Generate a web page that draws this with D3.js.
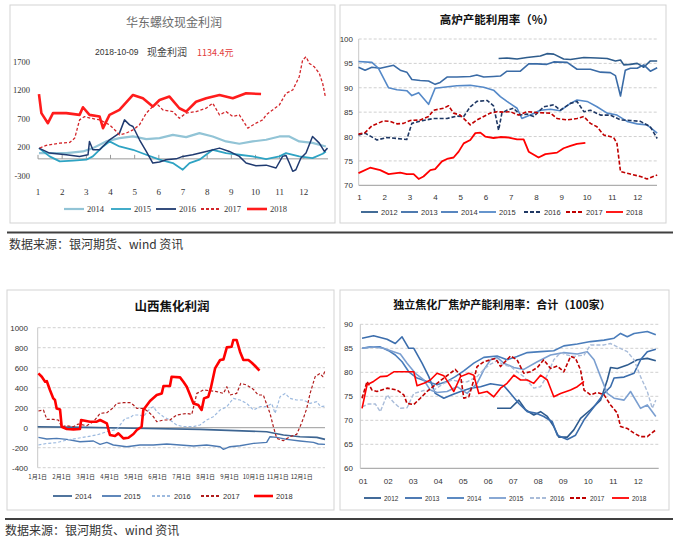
<!DOCTYPE html>
<html>
<head>
<meta charset="utf-8">
<script src="https://cdn.jsdelivr.net/npm/d3@7"></script>
<style>
body { margin: 0; background: #fff; }
text { font-family: "Liberation Sans", Arial, sans-serif; }
</style>
</head>
<body>
<svg id="chart" width="673" height="542"></svg>
<script>
// ---------- 华东螺纹现金利润 (x = 月份, y = 元) ----------
var lwYears = ["2014", "2015", "2016", "2017", "2018"];
var lwXLabels = ["1","2","3","4","5","6","7","8","9","10","11","12"];
var lwYTicks = [1700, 1200, 700, 200, -300];
var lw2014 = [[1.04,101],[2.17,101],[2.86,130],[3.27,188],[3.82,305],[4.37,363],[4.93,392],[5.48,345],[6.03,363],[6.58,420],[7.13,380],[7.68,450],[8.23,392],[8.78,305],[9.33,264],[9.88,305],[10.44,334],[10.99,392],[11.40,392],[11.81,305],[12.36,280],[12.91,217]];
var lw2015 = [[1.04,188],[1.48,43],[1.90,-44],[2.45,-32],[3.00,-15],[3.27,43],[3.69,217],[3.96,305],[4.37,217],[4.93,159],[5.48,72],[6.03,-15],[6.58,-73],[6.99,-190],[7.27,-73],[7.68,-15],[8.23,159],[8.78,101],[9.33,72],[9.88,43],[10.44,-3],[10.99,43],[11.26,101],[11.81,43],[12.36,14],[12.78,89],[12.91,130]];
var lw2016 = [[1.04,188],[1.48,101],[2.17,72],[2.72,43],[3.07,72],[3.13,305],[3.27,159],[3.55,159],[3.96,334],[4.37,450],[4.58,682],[4.79,595],[4.93,566],[5.20,334],[5.48,130],[5.75,-73],[6.03,-55],[6.30,-15],[6.72,0],[6.99,43],[7.40,72],[7.96,130],[8.51,188],[8.92,130],[9.33,43],[9.61,-73],[10.02,-120],[10.44,-110],[10.85,-160],[11.12,43],[11.26,60],[11.40,-73],[11.54,-218],[11.67,-190],[11.88,14],[12.09,101],[12.36,392],[12.64,275],[12.85,130],[12.98,188]];
var lw2017 = [[1.07,190],[1.34,235],[1.90,275],[2.31,287],[2.52,363],[2.72,682],[2.93,740],[3.20,710],[3.55,682],[3.96,595],[4.24,480],[4.37,420],[4.65,450],[4.93,508],[5.20,595],[5.48,800],[5.75,915],[5.89,973],[6.03,915],[6.17,856],[6.58,827],[6.85,711],[7.13,800],[7.54,827],[7.96,886],[8.23,973],[8.51,770],[8.78,827],[9.06,740],[9.33,770],[9.68,537],[10.02,624],[10.30,682],[10.44,770],[10.71,856],[10.99,944],[11.26,1147],[11.54,1205],[11.81,1437],[11.95,1728],[12.09,1786],[12.23,1670],[12.43,1612],[12.64,1496],[12.78,1321],[12.89,1089]];
var lw2018 = [[1.04,1134],[1.14,800],[1.41,624],[1.62,800],[2.17,800],[2.72,770],[2.86,903],[3.13,770],[3.55,740],[3.69,537],[3.96,770],[4.37,856],[4.93,1118],[5.34,1060],[5.75,915],[6.03,1030],[6.44,1090],[6.85,886],[7.13,827],[7.54,1000],[7.96,1060],[8.51,1118],[9.06,1060],[9.61,1147],[10.23,1134]];

// ---------- 高炉产能利用率 (%) ----------
var glYears = ["2012", "2013", "2014", "2015", "2016", "2017", "2018"];
var glXLabels = ["1","2","3","4","5","6","7","8","9","10","11","12"];
var glYTicks = [100, 95, 90, 85, 80, 75, 70];
var gl2012 = [[6.50,96],[6.83,96.1],[7.23,95.9],[7.62,96.2],[8.15,96.5],[8.41,97],[8.68,96.9],[9.07,95.9],[9.34,95.8],[9.87,96.2],[10.39,96.1],[10.79,96],[11.12,95.5],[11.32,95.7],[11.45,94.7],[11.71,94.8],[11.98,95],[12.24,94.2],[12.50,95.5],[12.77,95.5]];
var gl2013 = [[0.96,94.2],[1.22,93.6],[1.49,94.2],[1.82,94.0],[2.35,94.6],[2.61,93.6],[2.87,93.2],[3.07,91.7],[3.40,91.5],[3.73,91.4],[3.99,90.7],[4.19,91.1],[4.46,92.2],[4.85,92.2],[5.38,92.3],[5.64,92.6],[5.91,92.2],[6.30,92.3],[6.57,92.4],[6.83,93.4],[7.36,93.4],[7.69,94.9],[8.02,94.9],[8.41,94.8],[8.68,95.3],[9.21,95.2],[9.60,93.8],[10.13,93.8],[10.53,93.2],[10.92,93.1],[11.12,92.5],[11.32,88.3],[11.51,93.6],[11.71,94],[11.98,94],[12.24,94.7],[12.50,93.4],[12.77,94.1]];
var gl2014 = [];
var gl2015 = [[0.96,95.4],[1.49,95.2],[1.75,94],[2.15,90],[2.48,89.6],[2.87,89.4],[3.07,88.4],[3.34,89],[3.73,86.6],[3.99,89.9],[4.32,90.1],[4.85,90.4],[5.38,90.5],[5.91,90.1],[6.30,89.5],[6.57,88.2],[6.83,87.2],[7.23,85.8],[7.42,83.7],[7.75,84.4],[8.15,85.4],[8.55,85.6],[8.94,85.3],[9.34,86.8],[9.60,87.5],[10.00,87.2],[10.39,86.1],[10.79,84.8],[11.18,84.4],[11.58,83.1],[11.98,82.6],[12.37,82.4],[12.77,80.7]];
var gl2016 = [[0.96,80.3],[1.22,80.7],[1.69,79.3],[2.08,79.8],[2.87,79.4],[3.07,82.7],[3.53,83.3],[3.93,83.7],[4.46,83.7],[4.85,84.2],[5.12,84.1],[5.38,86.1],[5.64,87.2],[6.04,87.4],[6.30,86.3],[6.50,81.3],[6.63,84.8],[6.83,85.4],[7.09,85.8],[7.36,84.4],[7.62,84.6],[7.89,84.1],[8.28,86.1],[8.68,86.5],[8.94,85.4],[9.34,86.8],[9.60,87.2],[9.87,85.1],[10.13,85.4],[10.53,84.4],[10.92,84.4],[11.32,83.4],[11.71,83.3],[12.11,83.1],[12.50,82.0],[12.77,79.6]];
var gl2017 = [[0.96,80.5],[1.22,80.8],[1.49,82.2],[1.95,83.2],[2.21,83.1],[2.48,82.6],[2.74,82.7],[3.01,83.3],[3.40,83.4],[3.73,84.1],[3.93,85.4],[4.32,85.8],[4.52,86.3],[4.72,84.8],[4.98,84.4],[5.38,82.4],[5.64,83.4],[5.91,84.1],[6.17,84.8],[6.44,85.1],[6.70,85.0],[6.96,85.1],[7.29,84.4],[7.62,85.1],[8.02,84.9],[8.55,84.8],[8.81,83.7],[9.21,83.4],[9.60,83.7],[9.87,84.1],[10.13,82.7],[10.39,82.0],[10.66,80.3],[11.05,79.8],[11.18,78.6],[11.32,72.8],[11.71,72.3],[12.11,71.8],[12.37,71.3],[12.77,72.1]];
var gl2018 = [[0.96,72.5],[1.42,73.6],[1.82,73.1],[2.15,72.3],[2.61,72.6],[2.87,72.3],[3.14,72.3],[3.34,71.3],[3.53,71.8],[3.80,73.1],[3.99,73.3],[4.26,74.9],[4.46,75.4],[4.72,75.7],[4.92,76.9],[5.12,78.6],[5.38,79.3],[5.58,80.7],[5.78,80.8],[5.97,80.0],[6.30,79.7],[6.57,79.9],[6.90,79.8],[7.23,79.4],[7.49,79.4],[7.69,76.9],[8.08,75.7],[8.35,76.4],[8.81,76.7],[9.07,77.6],[9.34,78.1],[9.60,78.5],[9.93,78.7]];

// ---------- 山西焦化利润 ----------
var sxYears = ["2014", "2015", "2016", "2017", "2018"];
var sxXLabels = ["1月1日","2月1日","3月1日","4月1日","5月1日","6月1日","7月1日","8月1日","9月1日","10月1日","11月1日","12月1日"];
var sxYTicks = [1000, 800, 600, 400, 200, 0, -200, -400];
var sx2014 = [[1.00,10],[3.00,3],[5.00,-5],[7.76,-17],[10.54,-40],[11.24,-73],[11.93,-90],[12.63,-97],[12.97,-117]];
var sx2015 = [[1.03,-97],[1.38,-113],[1.79,-107],[2.21,-117],[2.76,-140],[3.32,-133],[3.60,-167],[3.88,-147],[4.15,-173],[4.71,-190],[5.26,-173],[5.82,-173],[6.38,-163],[6.93,-173],[7.49,-183],[8.04,-173],[8.60,-190],[8.74,-217],[9.01,-190],[9.43,-180],[9.99,-157],[10.54,-147],[10.68,-90],[10.96,-97],[11.38,-117],[11.93,-133],[12.49,-147],[12.69,-163],[12.97,-167]];
var sx2016 = [[1.03,-173],[1.38,-157],[1.79,-150],[2.21,-123],[2.63,-107],[3.04,-90],[3.46,-73],[3.88,-40],[4.29,-17],[4.64,93],[4.85,100],[4.99,127],[5.26,127],[5.40,110],[5.68,193],[5.82,210],[5.96,160],[6.24,110],[6.51,77],[6.79,27],[7.07,10],[7.49,10],[7.76,27],[8.04,77],[8.32,110],[8.60,177],[8.88,210],[9.15,293],[9.43,277],[9.71,243],[9.99,177],[10.26,210],[10.54,210],[10.75,243],[10.89,143],[11.10,310],[11.31,343],[11.51,293],[11.79,277],[12.07,277],[12.35,243],[12.63,260],[12.79,210],[12.97,217]];
var sx2017 = [[1.03,167],[1.24,177],[1.38,83],[1.65,83],[1.86,77],[2.00,10],[2.21,20],[2.49,10],[2.69,37],[3.04,20],[3.32,60],[3.60,143],[3.88,150],[4.15,200],[4.29,243],[4.57,250],[4.85,250],[4.99,227],[5.13,193],[5.40,193],[5.61,160],[5.82,110],[5.96,60],[6.24,77],[6.51,77],[6.79,127],[7.21,143],[7.42,133],[7.63,343],[7.90,377],[8.18,370],[8.46,360],[8.74,343],[8.88,410],[9.01,327],[9.29,343],[9.46,443],[9.71,427],[9.99,383],[10.19,327],[10.40,327],[10.68,143],[10.82,10],[10.96,-107],[11.24,-130],[11.51,-90],[11.79,-67],[11.93,10],[12.07,93],[12.21,193],[12.35,343],[12.56,510],[12.76,543],[12.88,510],[12.97,570]];
var sx2018 = [[1.03,543],[1.17,510],[1.31,460],[1.38,465],[1.51,377],[1.65,293],[1.72,277],[1.79,193],[1.93,183],[2.00,10],[2.21,-13],[2.49,-17],[2.76,-13],[2.81,77],[3.18,60],[3.46,60],[3.60,77],[3.88,43],[4.01,-73],[4.22,-83],[4.36,-57],[4.57,-107],[4.78,-100],[4.99,-63],[5.13,-23],[5.33,10],[5.40,177],[5.68,267],[5.96,327],[6.17,343],[6.24,417],[6.51,417],[6.58,510],[6.93,503],[7.07,460],[7.21,410],[7.35,327],[7.49,243],[7.69,227],[7.83,177],[7.93,293],[8.11,310],[8.21,393],[8.39,593],[8.60,677],[8.74,683],[8.88,803],[9.08,810],[9.15,877],[9.29,877],[9.43,760],[9.57,677],[9.78,677],[9.92,650],[10.06,617],[10.24,570]];

// ---------- 独立焦化厂焦炉产能利用率：合计（100家） ----------
var dlYears = ["2012", "2013", "2014", "2015", "2016", "2017", "2018"];
var dlXLabels = ["01","02","03","04","05","06","07","08","09","10","11","12"];
var dlYTicks = [90, 85, 80, 75, 70, 65, 60];
var dl2012 = [[6.39,72.5],[6.93,72.5],[7.26,74.2],[7.53,72.2],[7.86,71.1],[8.13,71.8],[8.40,70.8],[8.66,68.7],[8.86,66.5],[9.20,66.5],[9.46,68.0],[9.73,70.4],[10.13,72.2],[10.53,74.2],[10.80,78.4],[10.93,81.0],[11.20,80.8],[11.60,81.5],[12.00,82.6],[12.40,82.9],[12.74,82.4]];
var dl2013 = [[0.99,87.1],[1.45,87.6],[1.99,86.9],[2.32,86.0],[2.59,87.4],[2.86,85.0],[3.06,85.0],[3.39,81.9],[3.66,79.1],[3.92,75.6],[4.26,74.6],[4.59,75.3],[4.93,76.0],[5.33,76.7],[5.73,77.0],[6.13,77.6],[6.66,77.2],[6.93,75.6],[7.26,73.5],[7.60,71.8],[7.93,71.5],[8.26,70.8],[8.60,69.7],[8.80,66.9],[9.20,66.0],[9.53,66.9],[9.87,70.1],[10.27,72.8],[10.67,75.6],[10.93,77.0],[11.07,78.8],[11.47,79.0],[11.87,79.8],[12.13,82.6],[12.40,84.3],[12.74,84.8]];
var dl2014 = [[0.99,85.0],[1.32,85.3],[1.72,85.3],[2.05,84.5],[2.32,83.6],[2.59,82.2],[2.86,80.1],[3.19,78.8],[3.59,78.1],[3.99,77.4],[4.39,78.1],[4.72,79.1],[5.06,80.3],[5.46,81.9],[5.86,83.1],[6.39,83.4],[6.79,82.6],[7.19,83.3],[7.60,84.1],[8.13,84.3],[8.66,84.5],[9.06,85.5],[9.60,85.9],[10.13,86.4],[10.67,86.7],[11.07,87.1],[11.33,88.1],[11.60,87.4],[11.87,88.1],[12.40,88.5],[12.74,87.8]];
var dl2015 = [[0.99,85.0],[1.45,85.3],[1.85,85.0],[2.19,84.4],[2.52,83.8],[2.79,81.9],[3.12,79.8],[3.46,78.4],[3.72,76.3],[3.99,75.8],[4.39,76.0],[4.79,77.0],[5.19,75.6],[5.59,77.7],[5.86,80.5],[6.13,82.6],[6.39,83.1],[6.66,81.9],[7.06,81.0],[7.46,80.6],[8.00,82.2],[8.53,83.6],[9.06,84.1],[9.60,83.8],[10.00,84.3],[10.27,82.6],[10.53,79.1],[10.80,75.6],[11.07,74.6],[11.47,74.2],[11.73,76.0],[12.13,72.5],[12.40,73.2],[12.74,70.8]];
var dl2016 = [[0.99,72.8],[1.25,73.4],[1.52,73.4],[1.72,71.8],[1.99,75.3],[2.26,73.7],[2.52,72.5],[2.79,72.6],[3.06,75.6],[3.46,76.2],[3.86,76.3],[4.26,77.7],[4.59,78.4],[4.93,78.0],[5.19,78.0],[5.59,79.1],[5.86,80.6],[6.13,81.7],[6.39,82.4],[6.66,81.5],[6.93,81.2],[7.46,79.1],[7.86,76.7],[8.13,77.0],[8.40,79.4],[8.66,82.6],[8.93,84.1],[9.20,83.6],[9.46,83.3],[9.87,83.6],[10.13,85.7],[10.67,85.7],[10.93,86.0],[11.20,85.3],[11.60,84.3],[11.87,82.6],[12.13,79.1],[12.40,76.0],[12.60,72.5],[12.74,74.2]];
var dl2017 = [[0.99,74.6],[1.19,78.1],[1.39,76.3],[1.59,76.0],[1.99,76.7],[2.39,76.3],[2.66,75.3],[2.79,73.5],[3.06,73.3],[3.32,74.6],[3.59,76.0],[3.99,77.7],[4.26,78.8],[4.52,79.8],[4.72,80.6],[4.93,79.4],[5.06,74.6],[5.26,74.9],[5.46,78.4],[5.59,81.2],[5.86,82.2],[6.13,82.6],[6.33,82.9],[6.53,81.2],[6.93,83.4],[7.19,82.6],[7.46,79.8],[7.73,80.1],[8.00,81.0],[8.26,82.6],[8.53,80.8],[8.80,81.3],[9.06,80.1],[9.33,83.3],[9.53,82.9],[9.73,80.5],[9.87,76.3],[10.13,75.3],[10.40,75.8],[10.67,75.3],[10.93,73.2],[11.20,71.5],[11.33,68.7],[11.60,68.3],[11.87,67.3],[12.13,66.6],[12.40,66.6],[12.74,68.0]];
var dl2018 = [[0.99,72.5],[1.19,77.4],[1.45,78.1],[1.72,79.1],[1.99,79.2],[2.26,80.1],[2.66,80.1],[3.06,80.1],[3.19,77.2],[3.46,77.7],[3.72,78.4],[3.99,79.8],[4.26,79.3],[4.46,77.7],[4.66,76.0],[4.93,79.1],[5.26,79.8],[5.46,79.4],[5.66,75.6],[5.99,76.0],[6.26,74.9],[6.53,76.7],[6.79,77.7],[7.06,79.4],[7.33,78.4],[7.60,78.4],[7.86,77.7],[8.13,79.4],[8.40,78.4],[8.66,74.9],[8.93,75.6],[9.33,76.3],[9.60,77.0],[9.87,78.1]];

var svg = d3.select("#chart");
var cjk = '"Noto Sans CJK SC", sans-serif';

// dibuja un panel completo
function drawPanel(p) {
    var g = svg.append("g");
    g.append("rect")
        .attr("x", p.box[0]).attr("y", p.box[1])
        .attr("width", p.box[2] - p.box[0]).attr("height", p.box[3] - p.box[1])
        .attr("fill", "#fff").attr("stroke", "#d3d3d3");

    var x = d3.scaleLinear().domain([1, 13]).range(p.xr);
    var y = d3.scaleLinear().domain(p.yd).range(p.yr);

    g.selectAll(".grid").data(p.grid).enter().append("line")
        .attr("x1", p.plot[0]).attr("x2", p.plot[1])
        .attr("y1", d => y(d)).attr("y2", d => y(d))
        .attr("stroke", "#d0d0d0").attr("stroke-dasharray", "3,2");

    g.append("line")
        .attr("x1", p.plot[0]).attr("x2", p.plot[1])
        .attr("y1", y(p.base)).attr("y2", y(p.base))
        .attr("stroke", "#9a9a9a");
    if (p.leftAxis) {
        g.append("line")
            .attr("x1", p.plot[0]).attr("x2", p.plot[0])
            .attr("y1", y(p.yd[0])).attr("y2", y(p.yd[1]))
            .attr("stroke", "#c8c8c8");
    }
    if (p.ticks) {
        g.selectAll(".tk").data(p.xLabels).enter().append("line")
            .attr("x1", (d, i) => x(i + 1)).attr("x2", (d, i) => x(i + 1))
            .attr("y1", y(p.base) - 4).attr("y2", y(p.base))
            .attr("stroke", "#9a9a9a");
    }

    g.selectAll(".yl").data(p.yTicks).enter().append("text")
        .attr("x", p.yLabelX).attr("y", d => y(d) + 3)
        .attr("text-anchor", "end")
        .style("font-family", p.numFont).style("font-size", p.yFont + "px")
        .attr("fill", "#333").text(d => d);

    g.selectAll(".xl").data(p.xLabels).enter().append("text")
        .attr("x", (d, i) => x(i + 1) + p.xDx).attr("y", p.xLabelY)
        .attr("text-anchor", "middle")
        .style("font-family", p.xLabelFont || p.numFont).style("font-size", p.xFont + "px")
        .attr("fill", "#333").text(d => d);

    var line = d3.line().x(d => x(d[0])).y(d => y(d[1]));
    p.series.forEach(function(s) {
        if (s.data.length === 0) return;
        g.append("path").datum(s.data)
            .attr("d", line).attr("fill", "none")
            .attr("stroke", s.color).attr("stroke-width", s.w)
            .attr("stroke-dasharray", s.dash || null)
            .attr("stroke-linejoin", "round");
    });

    // leyenda
    p.series.forEach(function(s, i) {
        var lx = p.legendX[i];
        g.append("line")
            .attr("x1", lx).attr("x2", lx + p.legendLen)
            .attr("y1", p.legendY).attr("y2", p.legendY)
            .attr("stroke", s.color).attr("stroke-width", Math.max(s.w, 1.8))
            .attr("stroke-dasharray", s.dash || null);
        g.append("text")
            .attr("x", lx + p.legendLen + 3).attr("y", p.legendY + 3)
            .style("font-family", p.numFont).style("font-size", p.legendFont + "px")
            .attr("fill", "#333").text(s.name);
    });

    g.append("text")
        .attr("x", p.titleX).attr("y", p.titleY)
        .attr("text-anchor", "middle")
        .style("font-family", cjk).style("font-size", p.titleSize + "px")
        .style("font-weight", p.titleWeight).attr("fill", p.titleColor)
        .text(p.title);
    return g;
}

var serif = '"Liberation Serif", "Times New Roman", serif';
var sans = '"Liberation Sans", Arial, sans-serif';

drawPanel({
    box: [10, 5, 335, 223], xr: [38, 328], yd: [-300, 1700], yr: [176, 61.7],
    plot: [38, 328], grid: [], base: 0, leftAxis: false, ticks: true,
    yTicks: lwYTicks, yLabelX: 30, yFont: 8.5, numFont: serif,
    xLabels: lwXLabels, xDx: 0, xLabelY: 195, xFont: 9,
    series: [
        {name: lwYears[0], data: lw2014, color: "#92c4d6", w: 2.2},
        {name: lwYears[1], data: lw2015, color: "#2ea3c3", w: 1.8},
        {name: lwYears[2], data: lw2016, color: "#1f3a70", w: 1.5},
        {name: lwYears[3], data: lw2017, color: "#d3262b", w: 1.3, dash: "3,2"},
        {name: lwYears[4], data: lw2018, color: "#ff1c1c", w: 2.6}
    ],
    legendX: [64, 111, 156, 201, 247], legendLen: 20, legendY: 209, legendFont: 8.5,
    title: "华东螺纹现金利润", titleX: 174, titleY: 27, titleSize: 12, titleWeight: "normal", titleColor: "#6b6b6b"
});

// subtítulo del panel 1
svg.append("text").attr("x", 95).attr("y", 55)
    .style("font-family", sans).style("font-size", "8.5px").attr("fill", "#333").text("2018-10-09");
svg.append("text").attr("x", 147).attr("y", 56)
    .style("font-family", cjk).style("font-size", "10px").attr("fill", "#444").text("现金利润");
svg.append("text").attr("x", 197).attr("y", 56)
    .style("font-family", cjk).style("font-size", "9px").attr("fill", "#e23a3a").text("1134.4元");

drawPanel({
    box: [340, 5, 666, 223], xr: [359.5, 663], yd: [70, 100], yr: [185.3, 39],
    plot: [358.7, 657], grid: [75, 80, 85, 90, 95, 100], base: 70, leftAxis: true,
    yTicks: glYTicks, yLabelX: 353, yFont: 8, numFont: sans,
    xLabels: glXLabels, xDx: 0, xLabelY: 200, xFont: 8,
    series: [
        {name: glYears[0], data: gl2012, color: "#2e5c8c", w: 1.6},
        {name: glYears[1], data: gl2013, color: "#3a6ba6", w: 1.6},
        {name: glYears[2], data: gl2014, color: "#4679b8", w: 1.6},
        {name: glYears[3], data: gl2015, color: "#5589c8", w: 1.6},
        {name: glYears[4], data: gl2016, color: "#1f3864", w: 1.6, dash: "4,2"},
        {name: glYears[5], data: gl2017, color: "#c00000", w: 1.6, dash: "4,2"},
        {name: glYears[6], data: gl2018, color: "#ff0000", w: 1.8}
    ],
    legendX: [361, 401, 441, 479, 524, 566, 606], legendLen: 17, legendY: 212, legendFont: 7.5,
    title: "高炉产能利用率（%）", titleX: 497, titleY: 24, titleSize: 11.5, titleWeight: "bold", titleColor: "#111"
});

drawPanel({
    box: [7, 290, 334, 510], xr: [37.7, 325.7], yd: [-400, 1000], yr: [467.7, 327.7],
    plot: [37.7, 325], grid: [1000, 800, 600, 400, 200, -200, -400], base: 0, leftAxis: true,
    yTicks: sxYTicks, yLabelX: 28, yFont: 8, numFont: sans,
    xLabels: sxXLabels, xDx: 0, xLabelY: 479, xFont: 6, xLabelFont: cjk,
    series: [
        {name: sxYears[0], data: sx2014, color: "#3d6592", w: 1.6},
        {name: sxYears[1], data: sx2015, color: "#4d7ab3", w: 1.4},
        {name: sxYears[2], data: sx2016, color: "#9dbadf", w: 1.2, dash: "3,2"},
        {name: sxYears[3], data: sx2017, color: "#b01c1c", w: 1.2, dash: "3,2"},
        {name: sxYears[4], data: sx2018, color: "#ff0000", w: 2.6}
    ],
    legendX: [53, 102, 152, 201, 254], legendLen: 19, legendY: 496, legendFont: 7.5,
    title: "山西焦化利润", titleX: 172, titleY: 311, titleSize: 12.5, titleWeight: "bold", titleColor: "#111"
});

drawPanel({
    box: [340, 290, 669, 510], xr: [362.3, 662.3], yd: [60, 90], yr: [468.3, 324.3],
    plot: [360.3, 658.7], grid: [65, 70, 75, 80, 85, 90], base: 60, leftAxis: true,
    yTicks: dlYTicks, yLabelX: 353, yFont: 8, numFont: sans,
    xLabels: dlXLabels, xDx: 1, xLabelY: 484, xFont: 8,
    series: [
        {name: dlYears[0], data: dl2012, color: "#2e5b8e", w: 1.6},
        {name: dlYears[1], data: dl2013, color: "#3b6dac", w: 1.6},
        {name: dlYears[2], data: dl2014, color: "#4a7dbb", w: 1.6},
        {name: dlYears[3], data: dl2015, color: "#7b9fd0", w: 1.6},
        {name: dlYears[4], data: dl2016, color: "#a9bcd9", w: 1.4, dash: "4,2"},
        {name: dlYears[5], data: dl2017, color: "#c00000", w: 1.6, dash: "4,2"},
        {name: dlYears[6], data: dl2018, color: "#ff0000", w: 1.6}
    ],
    legendX: [364, 405, 447, 489, 530, 570, 612], legendLen: 17, legendY: 498, legendFont: 6.5,
    title: "独立焦化厂焦炉产能利用率：合计（100家）", titleX: 502, titleY: 309, titleSize: 11, titleWeight: "bold", titleColor: "#111"
});

// separadores y fuentes
svg.append("line").attr("x1", 7).attr("x2", 673).attr("y1", 232.5).attr("y2", 232.5)
    .attr("stroke", "#404040").attr("stroke-width", 2);
svg.append("text").attr("x", 9).attr("y", 249)
    .style("font-family", cjk).style("font-size", "12px").attr("fill", "#333")
    .text("数据来源：银河期货、wind 资讯");
svg.append("line").attr("x1", 5).attr("x2", 673).attr("y1", 519).attr("y2", 519)
    .attr("stroke", "#404040").attr("stroke-width", 2);
svg.append("text").attr("x", 5).attr("y", 535)
    .style("font-family", cjk).style("font-size", "12px").attr("fill", "#333")
    .text("数据来源：银河期货、wind 资讯");
</script>
</body>
</html>
